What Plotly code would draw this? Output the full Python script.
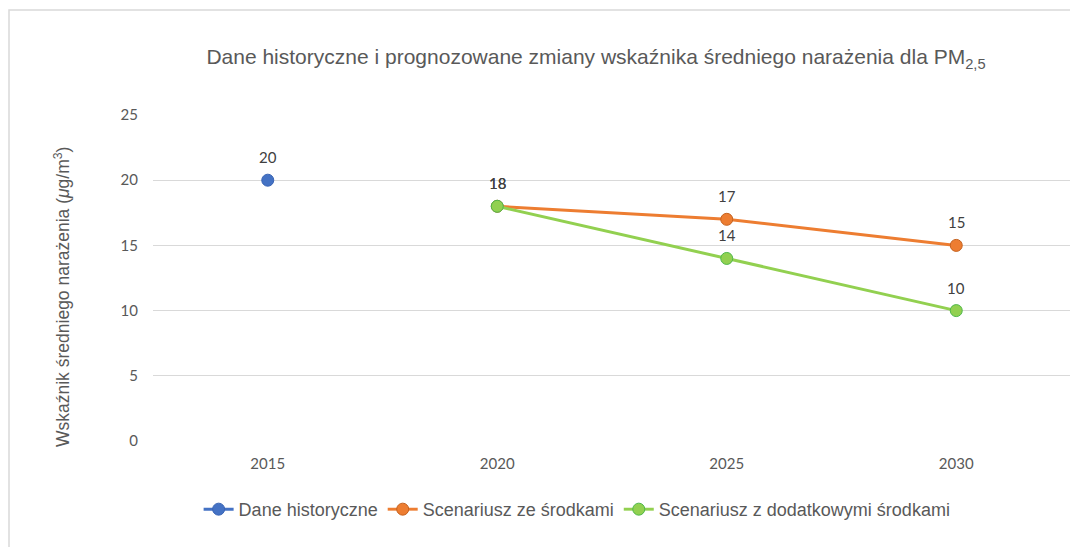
import plotly.graph_objects as go

years = ["2015", "2020", "2025", "2030"]
hist_x = ["2015"]
hist_y = [20]
scen_x = ["2020", "2025", "2030"]
scen_y = [18, 17, 15]
add_x = ["2020", "2025", "2030"]
add_y = [18, 14, 10]

names = ["Dane historyczne", "Scenariusz ze środkami", "Scenariusz z dodatkowymi środkami"]
title = "Dane historyczne i prognozowane zmiany wskaźnika średniego narażenia dla PM<sub>2,5</sub>"
ytitle = "Wskaźnik średniego narażenia (<i>μ</i>g/m<sup>3</sup>)"

lab_font = dict(family="Lato, Liberation Sans, sans-serif", size=15, color="#404040")
arial = "Liberation Sans, Arial, sans-serif"

# page body has an 8px margin; compensate so the plot area lands at 153..1071 x 115..441
W, H = 1070, 539
fig = go.Figure()
series = [
    (hist_x, hist_y, names[0], "#4472C4", "#3a65b5"),
    (scen_x, scen_y, names[1], "#ED7D31", "#c5621f"),
    (add_x, add_y, names[2], "#92D050", "#4fb84a"),
]
for xs, ys, nm, col, edge in series:
    fig.add_trace(go.Scatter(
        x=xs, y=ys, name=nm, mode="lines+markers",
        line=dict(color=col, width=3),
        marker=dict(size=12, color=col, line=dict(color=edge, width=1)),
    ))
    for xv, yv in zip(xs, ys):
        # on a category axis, annotation x is the category index
        fig.add_annotation(x=years.index(xv), y=yv, xref="x", yref="y", text=str(yv),
                           showarrow=False, yshift=23, xanchor="center", yanchor="middle",
                           font=lab_font)

fig.update_layout(
    width=W, height=H,
    margin=dict(l=145, r=7, t=107, b=106),
    paper_bgcolor="white", plot_bgcolor="white",
    title=dict(text=title, x=588 / W, xanchor="center", y=1 - 49 / H, yanchor="middle",
               font=dict(family=arial, size=21, color="#595959")),
    showlegend=True,
    legend=dict(orientation="h", x=0.462, xanchor="center", y=-0.21, yanchor="middle",
                font=dict(family=arial, size=18, color="#595959"),
                itemwidth=30, tracegroupgap=0),
    font=dict(family="Lato, Liberation Sans, sans-serif", color="#595959"),
)
fig.update_xaxes(type="category", categoryorder="array", categoryarray=years,
                 range=[-0.5, 3.5], showgrid=False, showline=False, zeroline=False,
                 tickfont=dict(family="Lato, Liberation Sans, sans-serif", size=15, color="#595959"),
                 ticks="outside", ticklen=9, tickcolor="rgba(0,0,0,0)")
fig.update_yaxes(range=[0, 25], dtick=5, tick0=0, showgrid=True, gridcolor="#d9d9d9", gridwidth=1,
                 zeroline=False, showline=False,
                 tickfont=dict(family="Lato, Liberation Sans, sans-serif", size=15, color="#595959"),
                 ticks="outside", ticklen=11, tickcolor="rgba(0,0,0,0)")

fig.add_annotation(text=ytitle, textangle=-90, xref="paper", yref="paper",
                   x=(62 - 153) / 918, y=(441 - 297) / 326, xanchor="center", yanchor="middle",
                   showarrow=False,
                   font=dict(family=arial, size=17.5, color="#595959"))

fig.add_shape(type="rect", xref="paper", yref="paper",
              x0=(9 - 153) / 918, x1=(1090 - 153) / 918,
              y0=(441 - 560) / 326, y1=(441 - 10) / 326,
              line=dict(color="#d9d9d9", width=1.5), fillcolor="rgba(0,0,0,0)", layer="below")

fig.write_html("out.html")
